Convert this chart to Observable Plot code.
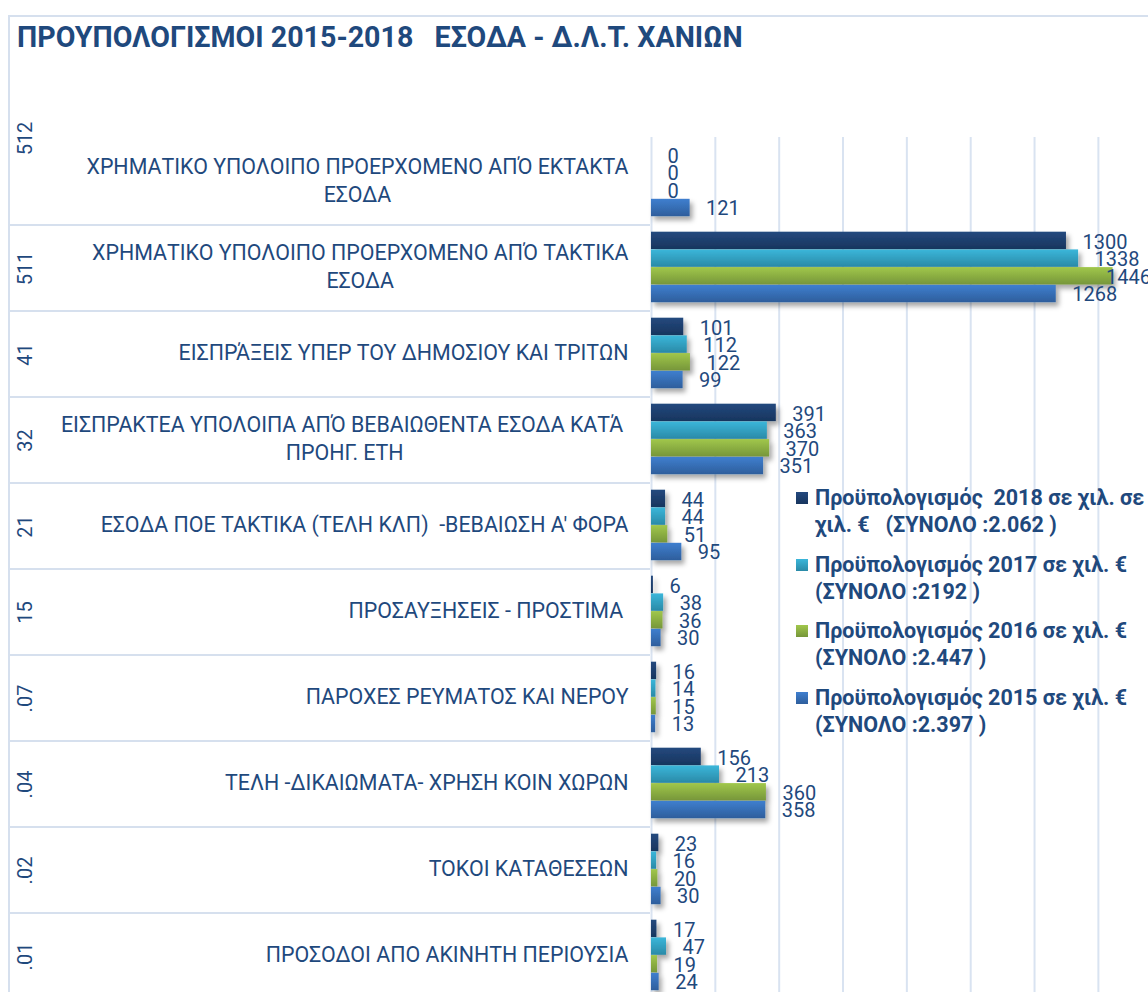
<!DOCTYPE html>
<html><head><meta charset="utf-8">
<script src="https://cdn.jsdelivr.net/npm/d3@7"></script>
<script src="https://cdn.jsdelivr.net/npm/@observablehq/plot@0.6"></script>
<style>
html,body{margin:0;padding:0;overflow:hidden;background:#fff;width:1148px;height:992px;}
#wrap{position:relative;width:1148px;height:992px;overflow:hidden;font-family:Roboto,"Noto Sans",sans-serif;color:#1F497D;background:#fff;}
#frame{position:absolute;left:8px;top:15px;width:1300px;height:1200px;border-left:2px solid #D6E0EE;border-top:2px solid #D6E0EE;}
#chart{position:absolute;left:0;top:0;}
#chart svg{background:transparent;overflow:hidden;}
#title{position:absolute;left:17px;top:20px;font-weight:700;font-size:28.6px;white-space:pre;color:#1F497D;}
#legend{position:absolute;left:796px;top:484px;width:400px;}
.item{display:flex;align-items:flex-start;margin-bottom:12.7px;}
.sw{width:12px;height:12px;margin-top:8px;margin-right:7px;flex:none;}
.lt{font-weight:700;font-size:21.5px;line-height:27px;white-space:pre;color:#1F497D;}
svg text{white-space:pre;}
</style>
</head><body>
<div id="wrap">
  <div id="frame"></div>
  <div id="chart"></div>
  <div id="title"></div>
  <div id="legend"></div>
</div>
<script>
const titleText = "ΠΡΟΥΠΟΛΟΓΙΣΜΟΙ 2015-2018   ΕΣΟΔΑ - Δ.Λ.Τ. ΧΑΝΙΩΝ";
const codes = ["512","511","41","32","21","15",".07",".04",".02",".01"];
const descriptions = [
  "ΧΡΗΜΑΤΙΚΟ ΥΠΟΛΟΙΠΟ ΠΡΟΕΡΧΟΜΕΝΟ ΑΠΌ ΕΚΤΑΚΤΑ\nΕΣΟΔΑ",
  "ΧΡΗΜΑΤΙΚΟ ΥΠΟΛΟΙΠΟ ΠΡΟΕΡΧΟΜΕΝΟ ΑΠΌ ΤΑΚΤΙΚΑ\nΕΣΟΔΑ",
  "ΕΙΣΠΡΆΞΕΙΣ ΥΠΕΡ ΤΟΥ ΔΗΜΟΣΙΟΥ ΚΑΙ ΤΡΙΤΩΝ",
  "ΕΙΣΠΡΑΚΤΕΑ ΥΠΟΛΟΙΠΑ ΑΠΌ ΒΕΒΑΙΩΘΕΝΤΑ ΕΣΟΔΑ ΚΑΤΆ \nΠΡΟΗΓ. ΕΤΗ",
  "ΕΣΟΔΑ ΠΟΕ ΤΑΚΤΙΚΑ (ΤΕΛΗ ΚΛΠ)  -ΒΕΒΑΙΩΣΗ Α' ΦΟΡΑ",
  "ΠΡΟΣΑΥΞΗΣΕΙΣ - ΠΡΟΣΤΙΜΑ ",
  "ΠΑΡΟΧΕΣ ΡΕΥΜΑΤΟΣ ΚΑΙ ΝΕΡΟΥ",
  "ΤΕΛΗ -ΔΙΚΑΙΩΜΑΤΑ- ΧΡΗΣΗ ΚΟΙΝ ΧΩΡΩΝ",
  "ΤΟΚΟΙ ΚΑΤΑΘΕΣΕΩΝ",
  "ΠΡΟΣΟΔΟΙ ΑΠΟ ΑΚΙΝΗΤΗ ΠΕΡΙΟΥΣΙΑ"
];
const budget2018 = [0, 1300, 101, 391, 44, 6, 16, 156, 23, 17];
const budget2017 = [0, 1338, 112, 363, 44, 38, 14, 213, 16, 47];
const budget2016 = [0, 1446, 122, 370, 51, 36, 15, 360, 20, 19];
const budget2015 = [121, 1268, 99, 351, 95, 30, 13, 358, 30, 24];
const legendLabels = [
  "Προϋπολογισμός  2018 σε χιλ. σε\nχιλ. €   (ΣΥΝΟΛΟ :2.062 )",
  "Προϋπολογισμός 2017 σε χιλ. €\n(ΣΥΝΟΛΟ :2192 )",
  "Προϋπολογισμός 2016 σε χιλ. €\n(ΣΥΝΟΛΟ :2.447 )",
  "Προϋπολογισμός 2015 σε χιλ. €\n(ΣΥΝΟΛΟ :2.397 )"
];
const gridTicks = [0, 200, 400, 600, 800, 1000, 1200, 1400];

const colorsTop = ["#24497E", "#3BB6DA", "#A1C74B", "#3F7FCF"];
const colorsBottom = ["#17355E", "#2A8AA7", "#76963A", "#2E5E9C"];
const seriesValues = [budget2018, budget2017, budget2016, budget2015];

// layout
const W = 1148, H = 1000, MT = 137, MB = 0, ML = 651;
const rowH = (H - MT - MB) / codes.length;
const padTop = 6.7, barH = 17.7;
const labelDy = [-25.5, -8.5, 9, 26];
const textColor = "#1F497D";

const rows = codes.map((c, i) => ({code: c, desc: descriptions[i]}));

// separator lines in the label area, placed with the y scale
function separators(index, scales, values, dims) {
  const g = d3.create("svg:g").attr("class", "separators");
  const y = scales.y;
  codes.forEach((c, i) => {
    if (i === 0) return;
    const yy = y(c);
    g.append("line").attr("x1", 8).attr("x2", dims.marginLeft - 1)
      .attr("y1", yy).attr("y2", yy)
      .attr("stroke", "#D6E0EE").attr("stroke-width", 2);
  });
  return g.node();
}

const marks = [
  Plot.ruleX(gridTicks, {x: d => d, stroke: "#D9E3F1", strokeWidth: 2}),
  separators
];
seriesValues.forEach((vals, k) => {
  const data = codes.map((c, i) => ({code: c, value: vals[i]}));
  marks.push(Plot.barX(data, {
    x: "value", y: "code",
    fill: `url(#grad${k})`,
    insetTop: padTop + k * barH,
    insetBottom: rowH - padTop - (k + 1) * barH
  }));
});
// text marks: 4 value-label marks (indices 0..3), then descriptions (4), then codes (5, 6)
seriesValues.forEach((vals, k) => {
  const data = codes.map((c, i) => ({code: c, value: vals[i]}));
  marks.push(Plot.text(data, {
    x: "value", y: "code", text: d => String(d.value),
    dx: 16, dy: labelDy[k], textAnchor: "start",
    fill: textColor, fontSize: 20
  }));
});
marks.push(Plot.text(rows, {
  y: "code", text: "desc", frameAnchor: "left", dx: -23, dy: -3, textAnchor: "end",
  fill: textColor, fontSize: 21.4, lineHeight: 1.31
}));
marks.push(Plot.text(rows.slice(1), {
  y: "code", text: "code", frameAnchor: "left", dx: 25 - ML, rotate: -90,
  textAnchor: "middle", fill: textColor, fontSize: 20
}));
marks.push(Plot.text(rows.slice(0, 1), {
  y: "code", text: "code", frameAnchor: "left", dx: 25 - ML, dy: -44, rotate: -90,
  textAnchor: "middle", fill: textColor, fontSize: 20
}));

const svg = Plot.plot({
  width: W, height: H,
  marginTop: MT, marginBottom: MB, marginLeft: ML, marginRight: 0,
  style: {fontFamily: "Roboto, 'Noto Sans', sans-serif", background: "transparent"},
  x: {domain: [0, 1557], axis: null},
  y: {type: "band", domain: codes, padding: 0, axis: null},
  marks
});

// gradients and shadow
const defs = d3.select(svg).insert("defs", ":first-child");
colorsTop.forEach((c, k) => {
  const lg = defs.append("linearGradient").attr("id", `grad${k}`)
    .attr("x1", 0).attr("y1", 0).attr("x2", 0).attr("y2", 1);
  lg.append("stop").attr("offset", "0%").attr("stop-color", c);
  lg.append("stop").attr("offset", "100%").attr("stop-color", colorsBottom[k]);
});
const f = defs.append("filter").attr("id", "shadow").attr("x", "-10%").attr("y", "-30%").attr("width", "130%").attr("height", "190%");
f.append("feDropShadow").attr("dx", 3).attr("dy", 4).attr("stdDeviation", 2.5)
  .attr("flood-color", "#000").attr("flood-opacity", 0.35);

document.getElementById("chart").appendChild(svg);
svg.querySelectorAll('g[aria-label="bar"]').forEach(g => g.setAttribute("filter", "url(#shadow)"));

const textGroups = Array.from(svg.querySelectorAll('g[aria-label="text"]'));
const valueGroups = textGroups.slice(0, 4);
const descGroup = textGroups[4];

// center multi-line category labels (as in the original)
if (descGroup) descGroup.querySelectorAll("text").forEach(t => {
  const spans = t.querySelectorAll("tspan");
  if (spans.length < 2) return;
  const w = Math.max(...Array.from(spans).map(s => s.getComputedTextLength()));
  t.setAttribute("text-anchor", "middle");
  spans.forEach(s => s.setAttribute("x", -w / 2));
});

// keep value labels inside the plot area (like the original's overflow handling)
const limit = W + 3;
const svgRect = svg.getBoundingClientRect();
valueGroups.forEach(g => g.querySelectorAll("text").forEach(t => {
  const r = t.getBoundingClientRect();
  const right = r.right - svgRect.left;
  if (right > limit) t.setAttribute("x", -(right - limit));
}));

document.getElementById("title").textContent = titleText;

const legend = d3.select("#legend");
legendLabels.forEach((lab, k) => {
  const it = legend.append("div").attr("class", "item");
  it.append("div").attr("class", "sw")
    .style("background", `linear-gradient(to bottom, ${colorsTop[k]}, ${colorsBottom[k]})`);
  it.append("div").attr("class", "lt").text(lab);
});
</script>
</body></html>
